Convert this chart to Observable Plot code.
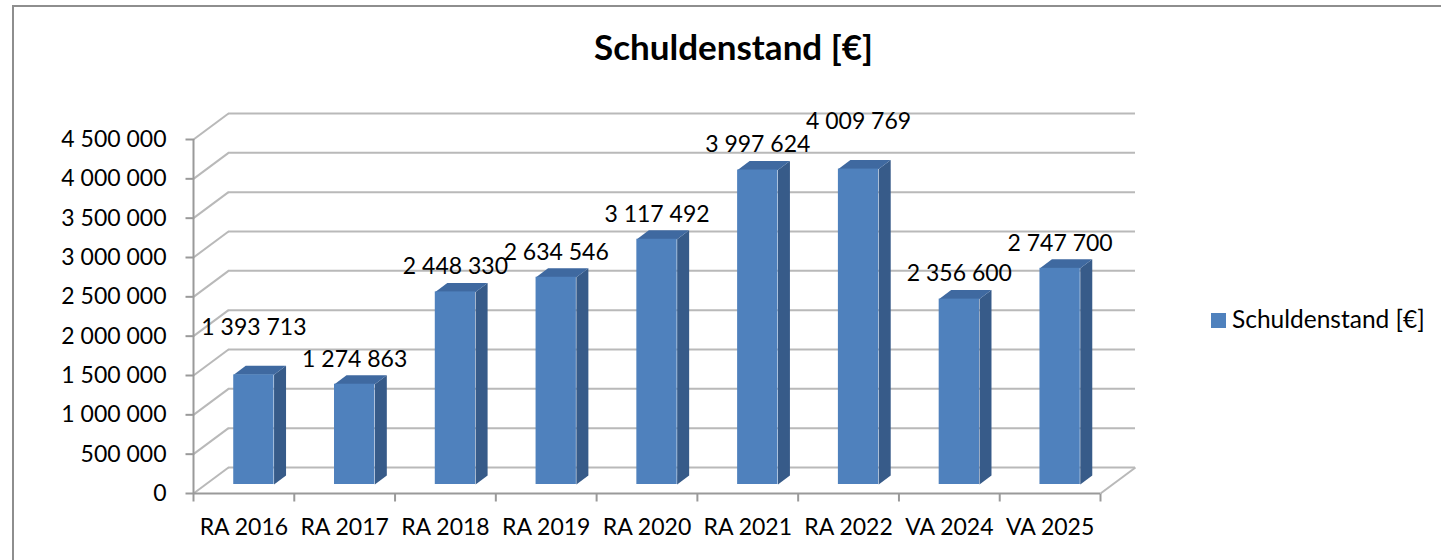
<!DOCTYPE html>
<html>
<head>
<meta charset="utf-8">
<script src="https://cdn.jsdelivr.net/npm/d3@7"></script>
<script src="https://cdn.jsdelivr.net/npm/@observablehq/plot@0.6"></script>
<style>
  html, body { margin: 0; padding: 0; background: #fff; }
  #wrap { position: relative; width: 1441px; height: 560px; overflow: hidden; font-family: Lato, "Open Sans", sans-serif; color: #000; }
  #border { position: absolute; left: 12px; top: 5px; width: 1600px; height: 700px; border-left: 2px solid #8e8e8e; border-top: 2px solid #8e8e8e; }
  #title { position: absolute; left: 0; width: 1467px; top: 25px; text-align: center; font: bold 35px Lato, sans-serif; line-height: 42px; }
  #legend { position: absolute; left: 1211px; top: 304px; font: 24.5px Lato, sans-serif; line-height: 29px; white-space: nowrap; }
  #legend .sw { display: inline-block; width: 15px; height: 15px; background: #4f81bd; position: absolute; left: 0; top: 9px; }
  #legend .lb { position: absolute; left: 21px; top: 0; }
  #chart { position: absolute; left: 0; top: 0; }
</style>
</head>
<body>
<div id="wrap">
  <div id="border"></div>
  <div id="chart"></div>
  <div id="title"></div>
  <div id="legend"><span class="sw"></span><span class="lb"></span></div>
</div>
<script>
// ---- data ----
const categories = ["RA 2016", "RA 2017", "RA 2018", "RA 2019", "RA 2020", "RA 2021", "RA 2022", "VA 2024", "VA 2025"];
const values = [1393713, 1274863, 2448330, 2634546, 3117492, 3997624, 4009769, 2356600, 2747700];
const yTicks = [0, 500000, 1000000, 1500000, 2000000, 2500000, 3000000, 3500000, 4000000, 4500000];
const seriesName = "Schuldenstand [€]";
const chartTitle = "Schuldenstand [€]";

// ---- layout / style ----
const W = 1441, H = 560;
const mL = 193, mR = 341, mT = 139, mB = 67;
const innerW = W - mL - mR, innerH = H - mT - mB;
const n = categories.length;
const yMax = yTicks[yTicks.length - 1];
const kx = n / innerW;        // data units per px (x)
const ky = yMax / innerH;     // data units per px (y)
const WALL_DX = 35, WALL_DY = 26;   // depth of the 3D box (px)
const BAR_DX = 10, BAR_DY = 9;      // front face shift of bars (px)
const DEP_DX = 12, DEP_DY = 9;      // bar depth (px)
const gridColor = "#b9b9b9", axisColor = "#9a9a9a";
const frontColor = "#4f81bd", sideColor = "#375b89", topColor = "#3f69a0";
const fmt = d => d3.format(",")(d).replace(/,/g, " ");

document.getElementById("title").textContent = chartTitle;
document.querySelector("#legend .lb").textContent = seriesName;

// simple label collision avoidance (like the spreadsheet): when two neighbouring
// labels sit at nearly the same height, the higher bar's label is lifted
const LIFT_PX = 22, CLASH_PX = 12;
const lift = values.map(() => 0);
for (let i = 0; i < values.length - 1; i++) {
  const a = values[i] / ky, b = values[i + 1] / ky;
  if (Math.abs(a - b) < CLASH_PX) lift[a > b ? i : i + 1] = LIFT_PX;
}

const bx = DEP_DX * kx, by = DEP_DY * ky;
const sidePts = values.flatMap((v, i) => [
  {i, x: i + 0.7, y: 0}, {i, x: i + 0.7, y: v}, {i, x: i + 0.7 + bx, y: v + by}, {i, x: i + 0.7 + bx, y: by}
]);
const topPts = values.flatMap((v, i) => [
  {i, x: i + 0.3, y: v}, {i, x: i + 0.7, y: v}, {i, x: i + 0.7 + bx, y: v + by}, {i, x: i + 0.3 + bx, y: v + by}
]);
const bounds = d3.range(n + 1);

const chart = Plot.plot({
  width: W, height: H,
  marginLeft: mL, marginRight: mR, marginTop: mT, marginBottom: mB,
  x: {type: "linear", domain: [0, n], axis: null},
  y: {type: "linear", domain: [0, yMax], axis: null},
  style: {background: "transparent", fontFamily: "Lato, sans-serif", fontSize: "23px", color: "#000", overflow: "visible"},
  marks: [
    // left wall slanted lines
    Plot.link(yTicks, {x1: 0, y1: d => d, x2: WALL_DX * kx, y2: d => d + WALL_DY * ky, stroke: gridColor, strokeWidth: 2}),
    // back wall horizontal grid lines
    Plot.ruleY(yTicks, {y: d => d + WALL_DY * ky, x1: WALL_DX * kx, x2: n + WALL_DX * kx, stroke: gridColor, strokeWidth: 2}),
    // floor right edge
    Plot.link([0], {x1: n, y1: 0, x2: n + WALL_DX * kx, y2: WALL_DY * ky, stroke: gridColor, strokeWidth: 2}),
    // y axis line and ticks
    Plot.ruleX([0], {y1: 0, y2: yMax, stroke: axisColor, strokeWidth: 2}),
    Plot.link(yTicks, {x1: -8 * kx, x2: 0, y1: d => d, y2: d => d, stroke: axisColor, strokeWidth: 2}),
    // x axis (floor front edge) and ticks
    Plot.ruleY([0], {x1: 0, x2: n, stroke: axisColor, strokeWidth: 2}),
    Plot.link(bounds, {x1: d => d, x2: d => d, y1: 0, y2: -8 * ky, stroke: axisColor, strokeWidth: 2}),
    // bars: side, top, front
    Plot.line(sidePts, {x: "x", y: "y", z: "i", fill: sideColor, stroke: "none", dx: BAR_DX, dy: -BAR_DY}),
    Plot.line(topPts, {x: "x", y: "y", z: "i", fill: topColor, stroke: "none", dx: BAR_DX, dy: -BAR_DY}),
    Plot.rect(values, {x1: (d, i) => i + 0.3, x2: (d, i) => i + 0.7, y1: 0, y2: d => d, fill: frontColor, dx: BAR_DX, dy: -BAR_DY}),
    // value labels
    Plot.text(values, {x: (d, i) => i + 0.5, y: (d, i) => d + lift[i] * ky, text: fmt, dx: BAR_DX, dy: -34, fill: "#000"}),
    // category labels
    Plot.text(categories, {x: (d, i) => i + 0.5, y: 0, text: d => d, dy: 34, fill: "#000"}),
    // y tick labels
    Plot.text(yTicks, {x: 0, y: d => d, text: fmt, textAnchor: "end", dx: -27, fill: "#000"})
  ]
});
document.getElementById("chart").appendChild(chart);
</script>
</body>
</html>
